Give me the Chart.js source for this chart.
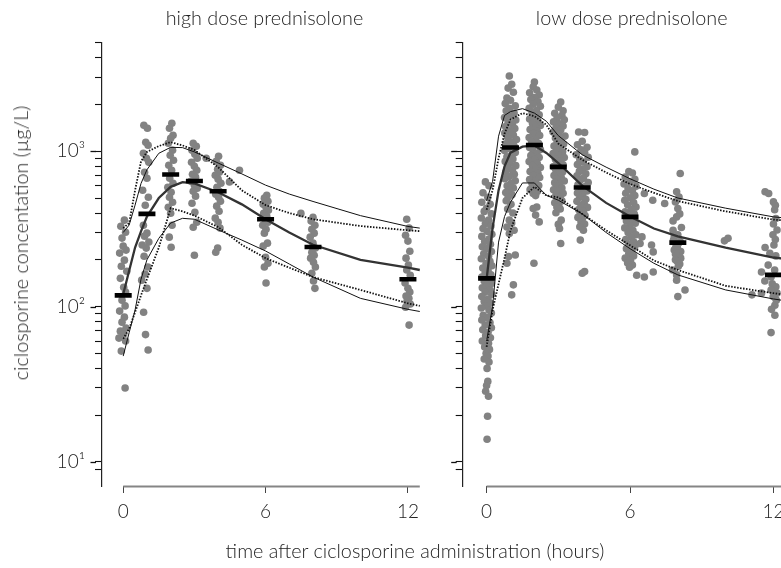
<!DOCTYPE html>
<html>
<head>
<meta charset="utf-8">
<script src="https://cdn.jsdelivr.net/npm/chart.js@4/dist/chart.umd.min.js"></script>
<style>
  html, body { margin: 0; padding: 0; background: #fff; }
  body { position: relative; width: 781px; height: 568px; overflow: hidden;
         font-family: Lato, "DejaVu Sans", sans-serif; font-weight: 300; color: #222; }
  #highPanel { position: absolute; left: 0; top: 0; }
  #lowPanel { position: absolute; left: 420px; top: 0; }
  .ytitle { position: absolute; left: 20px; top: 243px; white-space: nowrap; font-size: 19.8px;
            transform: translate(-50%, -50%) rotate(-90deg); }
  .xtitle { position: absolute; left: 415px; top: 550px; white-space: nowrap; font-size: 19.8px;
            transform: translate(-50%, -50%); }
</style>
</head>
<body>
<canvas id="highPanel" width="440" height="568"></canvas>
<canvas id="lowPanel" width="400" height="568"></canvas>
<div class="ytitle">ciclosporine concentation (µg/L)</div>
<div class="xtitle">time after ciclosporine administration (hours)</div>
<script>
// ---- axis ticks ----
const timeTicks = [0, 6, 12];
const decadeTicks = [10, 100, 1000];
const decadeLabels = ['10¹', '10²', '10³'];
const minorTicks = [9, 20, 30, 40, 50, 60, 70, 80, 90, 200, 300, 400, 500, 600, 700, 800, 900, 2000, 3000, 4000, 5000];
const timeAxisEnd = 12.5;

// ---- nominal sampling times and observed medians ----
const nominalTimes = [0, 1, 2, 3, 4, 6, 8, 12];
const highMedians = [118, 395, 708, 644, 553, 365, 242, 150];
const lowMedians = [152, 1056, 1098, 793, 584, 378, 258, 160];

// ---- model prediction curves (µg/L) ----
const hours = [0, 0.25, 0.5, 0.75, 1, 1.5, 2, 2.5, 3, 4, 5, 6, 7, 8, 10, 12, 12.5];
const highMid      = [120, 170, 240, 305, 380, 500, 590, 632, 620, 545, 455, 365, 300, 250, 200, 178, 172];
const highHiSolid  = [300, 335, 450, 620, 760, 970, 1060, 1055, 990, 840, 715, 605, 530, 475, 385, 328, 320];
const highHiDotted = [320, 345, 560, 860, 990, 1080, 1145, 1090, 1020, 790, 560, 450, 400, 365, 330, 310, 306];
const highLoSolid  = [48, 68, 95, 150, 200, 275, 345, 370, 365, 312, 268, 228, 188, 155, 113, 96, 93];
const highLoDotted = [62, 72, 92, 118, 150, 240, 430, 410, 385, 325, 250, 205, 178, 155, 128, 105, 101];

const lowMid      = [150, 320, 560, 800, 980, 1070, 1090, 975, 840, 600, 465, 380, 318, 283, 240, 207, 203];
const lowHiSolid  = [480, 640, 1250, 1700, 1800, 1880, 1760, 1560, 1260, 950, 790, 665, 570, 500, 430, 378, 372];
const lowHiDotted = [420, 560, 900, 1300, 1600, 1760, 1680, 1480, 1120, 880, 730, 615, 540, 478, 410, 363, 358];
const lowLoSolid  = [60, 100, 260, 380, 470, 625, 625, 520, 484, 395, 300, 236, 190, 160, 128, 112, 109];
const lowLoDotted = [55, 95, 140, 205, 310, 500, 590, 520, 505, 395, 310, 248, 198, 172, 136, 122, 119];

// ---- observed concentrations, high dose prednisolone: [time (h), µg/L] ----
const highObs0 = [[0.05,360],[-0.1,329],[0.1,301],[-0.05,276],[0,245],[0.12,231],[-0.15,221],[0.05,199],[-0.08,182],[0.15,169],[-0.12,152],[0.02,133],[0.1,124],[-0.05,110],[0.08,101],[-0.15,93.5],[0.05,85.5],[-0.05,79.4],[0.12,72.7],[-0.12,69.5],[0.02,66.5],[-0.18,62.7],[0.1,60],[-0.08,51.7],[0.08,29.9]];
const highObs1 = [[0.87,1469],[1.02,1406],[0.95,1143],[1.05,1093],[0.85,971],[0.98,902],[1.08,850],[0.9,732],[1,670],[0.82,561],[1.06,506],[0.93,449],[0.85,334],[1,297],[0.9,284],[1.08,260],[0.8,249],[0.97,238],[0.88,211],[1.04,180],[0.92,162],[0.78,148],[1,131],[0.86,92],[0.94,66],[1.05,52.5]];
const highObs2 = [[2.05,1514],[1.95,1406],[2.1,1267],[2,1212],[1.9,1126],[2.08,1015],[1.98,943],[2.12,875],[1.92,813],[2.04,755],[1.96,670],[2.1,622],[1.88,586],[2.02,544],[1.95,506],[2.08,470],[1.9,436],[2,399],[2.06,334],[1.94,280],[2.02,241]];
const highObs3 = [[2.95,1126],[3.08,1077],[2.9,1015],[3.02,957],[3.12,902],[2.88,850],[3,801],[3.1,755],[2.92,711],[3.05,681],[2.85,641],[3,604],[3.12,578],[2.95,553],[3.05,514],[2.9,463],[3.02,405],[3.1,349],[2.95,324],[3,214],[3.5,902]];
const highObs4 = [[4.02,929],[3.92,862],[4.1,813],[3.98,766],[4.05,732],[3.88,701],[4,661],[4.12,622],[3.95,586],[4.05,553],[3.9,529],[4.02,506],[4.1,477],[3.94,443],[4.04,411],[3.88,371],[4,349],[4.08,320],[3.98,238],[3.9,224],[4.48,635],[4.9,755]];
const highObs6 = [[6.05,521],[5.95,499],[6.1,477],[5.9,456],[6.02,436],[6.12,417],[5.92,399],[6.05,382],[5.98,365],[6.1,349],[5.88,334],[6.02,315],[5.95,297],[6.08,256],[5.9,245],[6,208],[6.1,190],[5.95,180],[6.02,142],[7.49,398]];
const highObs8 = [[8,376],[7.92,355],[8.08,334],[7.95,315],[8.05,297],[7.88,280],[8,256],[8.1,238],[7.95,224],[8.05,214],[7.9,205],[8.02,193],[8.1,180],[7.95,164],[8.02,146],[8.08,131]];
const highObs12 = [[11.95,365],[12.05,320],[11.9,288],[12,264],[12.08,227],[11.92,205],[12.02,185],[11.95,172],[12.1,159],[11.88,142],[12,131],[12.08,124],[11.92,117],[12.04,113],[11.96,108],[12.1,104],[11.9,99],[12.05,76]];

// ---- observed concentrations, low dose prednisolone: [time (h), µg/L] ----
const lowObs0 = [[-0.05,635],[0.1,600],[-0.15,540],[0.05,505],[-0.2,470],[0.15,455],[0,430],[-0.1,410],[0.2,395],[-0.22,372],[0.08,360],[-0.05,342],[0.18,330],[-0.15,318],[0.02,305],[0.22,292],[-0.2,283],[0.1,272],[-0.08,262],[0.16,252],[-0.18,243],[0.04,236],[0.2,226],[-0.12,219],[0.08,211],[-0.22,203],[0.14,196],[-0.02,190],[0.22,183],[-0.16,177],[0.06,171],[-0.06,165],[0.18,160],[-0.2,155],[0.1,150],[-0.1,146],[0.2,141],[0,136],[-0.18,132],[0.14,128],[-0.06,124],[0.22,120],[-0.2,116],[0.06,112],[-0.1,108],[0.16,105],[-0.02,101],[-0.22,98],[0.1,95],[0.2,91],[-0.14,88],[0.02,85],[-0.2,82],[0.14,79],[-0.06,76],[0.2,73],[-0.16,71],[0.06,68],[-0.04,65],[0.16,63],[-0.18,60],[0.08,58],[-0.08,55],[0.12,53],[-0.02,50],[0.06,48],[-0.1,46],[0.1,44],[0.02,40],[0.05,33],[0,31],[-0.04,28.5],[0.08,26.5],[0.04,19.7],[0.02,14]];
const lowObs1 = [[0.95,3050],[1.05,2700],[0.9,2550],[1.12,2400],[0.85,2200],[1,2130],[0.78,2030],[1.2,1960],[0.95,1890],[0.82,1820],[1.15,1760],[1,1700],[0.75,1650],[1.22,1590],[0.9,1540],[1.08,1490],[0.8,1440],[1.18,1400],[0.98,1355],[0.76,1310],[1.12,1270],[0.88,1230],[1.25,1190],[1.02,1150],[0.8,1115],[1.15,1080],[0.92,1045],[0.75,1010],[1.2,980],[1.05,950],[0.85,920],[1.1,890],[0.78,860],[0.97,835],[1.22,808],[0.88,782],[1.08,757],[0.8,733],[1.16,710],[0.95,688],[0.76,665],[1.2,645],[1.02,622],[0.86,600],[1.12,580],[0.94,560],[0.8,542],[1.06,525],[0.9,508],[0.82,480],[1.02,455],[0.88,425],[1.1,400],[0.95,360],[1.05,345],[0.85,325],[1.15,310],[0.95,295],[1.2,215],[0.92,210],[0.85,190],[1.12,138],[1.05,119]];
const lowObs2 = [[2,2790],[1.95,2600],[2.1,2480],[1.8,2380],[2.2,2300],[2,2220],[1.85,2150],[2.15,2080],[1.95,2010],[2.25,1950],[1.78,1890],[2.08,1830],[1.9,1770],[2.2,1715],[2.02,1660],[1.8,1610],[2.15,1560],[1.92,1510],[2.25,1465],[2.05,1420],[1.82,1380],[2.12,1340],[1.95,1300],[2.22,1262],[1.78,1225],[2.05,1190],[1.88,1155],[2.18,1120],[2,1088],[1.8,1056],[2.25,1025],[1.95,995],[2.1,965],[1.85,937],[2.2,910],[2,884],[1.78,858],[2.12,833],[1.92,808],[2.25,785],[2.05,762],[1.82,740],[2.15,718],[1.95,697],[2.22,677],[1.8,657],[2.05,638],[1.9,619],[2.18,601],[2,583],[1.82,566],[2.12,550],[1.95,534],[2.05,518],[2.1,438],[1.95,428],[2.05,388],[2.2,351],[1.98,190]];
const lowObs3 = [[3.1,2075],[3,1924],[3.2,1820],[2.85,1756],[3.15,1700],[2.95,1645],[3.25,1595],[2.8,1545],[3.05,1500],[3.2,1455],[2.9,1410],[3.1,1370],[2.78,1330],[3,1290],[3.28,1252],[2.88,1215],[3.12,1180],[2.95,1146],[3.22,1112],[2.82,1080],[3.05,1050],[2.92,1020],[3.18,992],[2.78,965],[3,938],[3.25,912],[2.88,888],[3.1,864],[2.95,840],[3.2,818],[2.8,796],[3.05,775],[2.9,755],[3.18,735],[3,716],[2.82,697],[3.12,679],[2.95,661],[3.25,644],[2.85,628],[3.05,612],[2.92,596],[3.15,580],[2.8,565],[3,550],[3.2,536],[2.9,522],[3.08,508],[2.96,494],[3.15,480],[2.85,466],[3.02,452],[2.94,438],[3.08,425],[2.9,402],[3.12,360],[3,338],[3.05,318],[3.1,255]];
const lowObs4 = [[3.85,1330],[4.1,1320],[4,1160],[3.8,1100],[4.2,1060],[3.95,1020],[4.1,985],[3.75,950],[4.25,915],[3.9,882],[4.05,852],[3.8,822],[4.2,795],[4,768],[3.88,742],[4.15,717],[3.78,694],[4.05,671],[3.92,650],[4.25,629],[3.82,609],[4.1,590],[3.98,572],[4.2,555],[3.8,538],[4.02,522],[3.9,506],[4.15,491],[3.78,476],[4.08,462],[3.95,448],[4.22,435],[3.85,422],[4.05,410],[3.92,398],[4.12,386],[3.82,375],[4,364],[3.95,352],[4.1,340],[3.9,326],[4.05,310],[3.92,268],[4,164],[4.1,168]];
const lowObs6 = [[6.2,990],[5.95,740],[6.1,725],[5.8,683],[6.2,660],[6,638],[5.75,616],[6.25,595],[5.92,575],[6.1,556],[5.82,537],[6.2,519],[6.02,501],[5.78,484],[6.15,468],[5.9,452],[6.25,437],[6.05,422],[5.8,408],[6.18,394],[5.95,381],[6.1,368],[5.85,356],[6.22,344],[6,332],[5.78,321],[6.12,310],[5.92,300],[6.25,290],[6.05,280],[5.82,270],[6.15,261],[5.95,252],[6.2,244],[5.85,236],[6.08,228],[5.95,220],[6.15,212],[5.8,205],[6.02,198],[5.9,191],[6.1,185],[5.98,179],[6.6,535],[6.95,484],[7.45,461],[6.5,281],[6.42,255],[6.9,249],[6.97,225],[6.6,155],[6.28,159],[6.97,167]];
const lowObs8 = [[8.1,719],[7.95,548],[8.05,508],[7.9,472],[8,428],[8.08,395],[7.95,378],[7.8,356],[8.15,323],[7.8,310],[8,290],[7.85,282],[7.82,268],[8.1,262],[8.02,255],[7.92,243],[7.98,240],[7.85,231],[8.12,226],[8.05,222],[7.9,218],[7.95,212],[8.12,205],[7.9,200],[7.98,195],[8.08,188],[8.02,182],[7.78,172],[7.95,160],[7.95,148],[8.3,128],[8,116],[9.95,265],[10.1,275]];
const lowObs12 = [[11.65,548],[11.8,535],[12,472],[12.08,449],[12.05,420],[12.1,369],[12,340],[12.15,311],[11.98,290],[12.08,270],[12.02,249],[11.65,240],[11.85,220],[12.1,212],[11.78,185],[11.5,167],[12.05,172],[11.9,155],[11.64,146],[11.95,140],[12.1,134],[11.9,128],[12.15,122],[11.5,122],[11.99,116],[12.12,110],[12.06,102],[11.92,96],[12.06,88],[11.9,68],[11.1,119]];

const highObs = [highObs0, highObs1, highObs2, highObs3, highObs4, highObs6, highObs8, highObs12];
const lowObs = [lowObs0, lowObs1, lowObs2, lowObs3, lowObs4, lowObs6, lowObs8, lowObs12];

const fontFamily = 'Lato, "DejaVu Sans", sans-serif';
Chart.defaults.font.family = fontFamily;
Chart.defaults.font.weight = '300';
Chart.defaults.color = '#222';

const tickFont = { family: fontFamily, size: 19, weight: '300' };

// gray time baseline and the longer decade marks on the concentration axis
const axisDecor = {
  id: 'axisDecor',
  afterDraw(chart) {
    const { ctx, chartArea, scales: { x, y } } = chart;
    ctx.save();
    ctx.strokeStyle = '#858585';
    ctx.lineWidth = 2.2;
    ctx.beginPath();
    ctx.moveTo(x.getPixelForValue(0), chartArea.bottom + 0.5);
    ctx.lineTo(x.getPixelForValue(timeAxisEnd), chartArea.bottom + 0.5);
    ctx.stroke();
    ctx.strokeStyle = '#111';
    ctx.lineWidth = 1.3;
    decadeTicks.forEach(v => {
      const py = Math.round(y.getPixelForValue(v)) + 0.5;
      ctx.beginPath();
      ctx.moveTo(chartArea.left - 11.5, py);
      ctx.lineTo(chartArea.left - 6, py);
      ctx.stroke();
    });
    ctx.restore();
  }
};

function curve(values) {
  return hours.map((h, i) => ({ x: h, y: values[i] }));
}

function panelDatasets(obs, mid, hiS, loS, hiD, loD, medians) {
  const pts = obs.flat().map(([t, c]) => ({ x: t, y: c }));
  const thin = { type: 'line', showLine: true, borderColor: '#111', borderWidth: 1, pointRadius: 0, tension: 0, fill: false, order: 2 };
  const dotted = { type: 'line', showLine: true, borderColor: '#111', borderWidth: 1.8, borderDash: [1.5, 1.5], pointRadius: 0, tension: 0, fill: false, order: 2 };
  return [
    { type: 'scatter', data: pts, pointRadius: 3.8, pointBackgroundColor: '#828282', pointBorderWidth: 0, order: 3 },
    Object.assign({ data: curve(hiS) }, thin),
    Object.assign({ data: curve(loS) }, thin),
    Object.assign({ data: curve(hiD) }, dotted),
    Object.assign({ data: curve(loD) }, dotted),
    { type: 'line', data: curve(mid), showLine: true, borderColor: '#333', borderWidth: 2.3, pointRadius: 0, tension: 0, fill: false, order: 1 },
    { type: 'scatter', data: nominalTimes.map((t, i) => ({ x: t, y: medians[i] })),
      pointStyle: 'line', pointRadius: 8.5, pointBorderWidth: 4.6, pointBorderColor: '#000', pointBackgroundColor: '#000', order: 0 }
  ];
}

function panelOptions(title, xMin, xMax, yWidth, padRight, showYLabels) {
  const allY = minorTicks.concat(decadeTicks).sort((a, b) => a - b);
  return {
    responsive: false,
    animation: false,
    events: [],
    layout: { padding: { left: 0, right: padRight, top: 0, bottom: 0 } },
    plugins: {
      legend: { display: false },
      tooltip: { enabled: false },
      title: { display: true, text: title, fullSize: false, color: '#222',
               font: { family: fontFamily, size: 19.8, weight: '300' },
               padding: { top: 7.1, bottom: 11.8 } }
    },
    scales: {
      x: {
        type: 'linear', min: xMin, max: xMax, bounds: 'data',
        afterBuildTicks: s => { s.ticks = timeTicks.map(v => ({ value: v })); },
        afterFit: s => { s.height = 82; },
        grid: { drawOnChartArea: false, drawTicks: true, tickLength: 7, tickColor: '#444', tickWidth: 1 },
        border: { display: false },
        ticks: { font: tickFont, color: '#222', padding: 7.5, maxRotation: 0, autoSkip: false,
                 callback: v => String(v) }
      },
      y: {
        type: 'logarithmic', min: 7, max: 5000, bounds: 'data',
        afterBuildTicks: s => { s.ticks = allY.map(v => ({ value: v })); },
        afterFit: s => { s.width = yWidth; },
        grid: { drawOnChartArea: false, drawTicks: true, tickLength: 7, tickColor: '#111', tickWidth: 1.1 },
        border: { display: true, color: '#222', width: 1.2 },
        ticks: { display: showYLabels, font: tickFont, color: '#222', padding: 10, autoSkip: false,
                 callback: v => { const k = decadeTicks.indexOf(v); return k >= 0 ? decadeLabels[k] : ''; } }
      }
    }
  };
}

new Chart(document.getElementById('highPanel'), {
  type: 'scatter',
  data: { datasets: panelDatasets(highObs, highMid, highHiSolid, highLoSolid, highHiDotted, highLoDotted, highMedians) },
  options: panelOptions('high dose prednisolone', -0.894, 12.8, 102, 11.6, true),
  plugins: [axisDecor]
});

new Chart(document.getElementById('lowPanel'), {
  type: 'scatter',
  data: { datasets: panelDatasets(lowObs, lowMid, lowHiSolid, lowLoSolid, lowHiDotted, lowLoDotted, lowMedians) },
  options: panelOptions('low dose prednisolone', -1.0, 13.14, 42.7, 19.3, false),
  plugins: [axisDecor]
});
</script>
</body>
</html>
